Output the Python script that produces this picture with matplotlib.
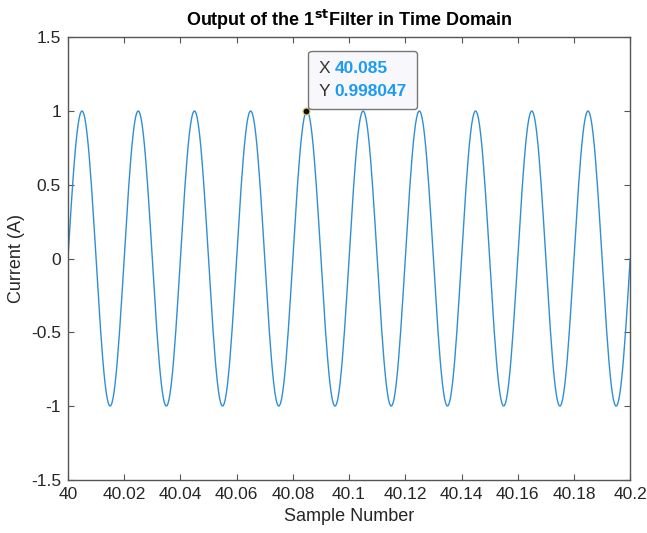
import numpy as np
import matplotlib
matplotlib.use("Agg")
import matplotlib.pyplot as plt
from matplotlib.offsetbox import TextArea, HPacker, VPacker, AnnotationBbox

plt.rcParams['font.family'] = ['Liberation Sans', 'DejaVu Sans']

# one cycle of the filter output (50 samples per 20 ms cycle)
cycle = [0.0, 0.1253, 0.2487, 0.3681, 0.4818, 0.5878, 0.6845, 0.7705, 0.8443, 0.9048,
         0.9511, 0.9823, 0.998, 0.998, 0.9823, 0.9511, 0.9048, 0.8443, 0.7705, 0.6845,
         0.5878, 0.4818, 0.3681, 0.2487, 0.1253, 0.0, -0.1253, -0.2487, -0.3681, -0.4818,
         -0.5878, -0.6845, -0.7705, -0.8443, -0.9048, -0.9511, -0.9823, -0.998, -0.998, -0.9823,
         -0.9511, -0.9048, -0.8443, -0.7705, -0.6845, -0.5878, -0.4818, -0.3681, -0.2487, -0.1253]
n_cycles = 10
x_start = 40.0
x_end = 40.2
tip_index = 212  # sample picked by the data tip

current = np.append(np.tile(cycle, n_cycles), cycle[0])
sample = np.linspace(x_start, x_end, len(current))

xticks = [40, 40.02, 40.04, 40.06, 40.08, 40.1, 40.12, 40.14, 40.16, 40.18, 40.2]
xticklabels = ['40', '40.02', '40.04', '40.06', '40.08', '40.1', '40.12', '40.14', '40.16', '40.18', '40.2']
yticks = [-1.5, -1, -0.5, 0, 0.5, 1, 1.5]
yticklabels = ['-1.5', '-1', '-0.5', '0', '0.5', '1', '1.5']

fig = plt.figure(figsize=(6.47, 5.33), dpi=100)
ax = fig.add_axes([0.105, 0.0994, 0.869, 0.8312])

ax.plot(sample, current, color='#2f8fd6', linewidth=1.0)

ax.set_xlim(x_start, x_end)
ax.set_ylim(-1.5, 1.5)
ax.set_xticks(xticks)
ax.set_xticklabels(xticklabels)
ax.set_yticks(yticks)
ax.set_yticklabels(yticklabels)

axis_col = '#555555'
text_col = '#262626'
for s in ax.spines.values():
    s.set_color(axis_col)
    s.set_linewidth(1.0)
ax.tick_params(direction='in', length=4.5, width=0.8, color=axis_col,
               labelcolor=text_col, labelsize=12.5, top=True, right=True, pad=5)

ax.set_xlabel('Sample Number', fontsize=13, color=text_col, labelpad=4)
ax.set_ylabel('Current (A)', fontsize=13, color=text_col, labelpad=4)
ax.set_title('Output of the 1$^{\\mathbf{st}}$Filter in Time Domain', fontsize=13,
             fontweight='bold', color='black', pad=8)

# data tip
tx = sample[tip_index]
ty = current[tip_index]
ax.plot([tx], [ty], 'o', markersize=5, markerfacecolor='#111111',
        markeredgecolor='#e0d060', markeredgewidth=0.8, zorder=5)

tip_blue = '#1b9cf2'
tip_fs = 12.5
row_x = HPacker(children=[TextArea('X', textprops=dict(color='#333333', fontsize=tip_fs)),
                          TextArea('%.3f' % tx, textprops=dict(color=tip_blue, fontsize=tip_fs, fontweight='bold'))],
                align='baseline', pad=0, sep=3)
row_y = HPacker(children=[TextArea('Y', textprops=dict(color='#333333', fontsize=tip_fs)),
                          TextArea('%.6f' % 0.998047, textprops=dict(color=tip_blue, fontsize=tip_fs, fontweight='bold'))],
                align='baseline', pad=0, sep=3)
tip_box = VPacker(children=[row_x, row_y], align='left', pad=0, sep=5.5)
ab = AnnotationBbox(tip_box, (tx, ty), xybox=(9.0, 9.0), xycoords='data',
                    boxcoords='offset points', box_alignment=(0, 0),
                    bboxprops=dict(boxstyle='round,pad=0.75,rounding_size=0.25',
                                   facecolor='#f8f8fc', edgecolor='#777777', linewidth=1.0),
                    zorder=6)
ax.add_artist(ab)

fig.savefig('out.png', dpi=100)
